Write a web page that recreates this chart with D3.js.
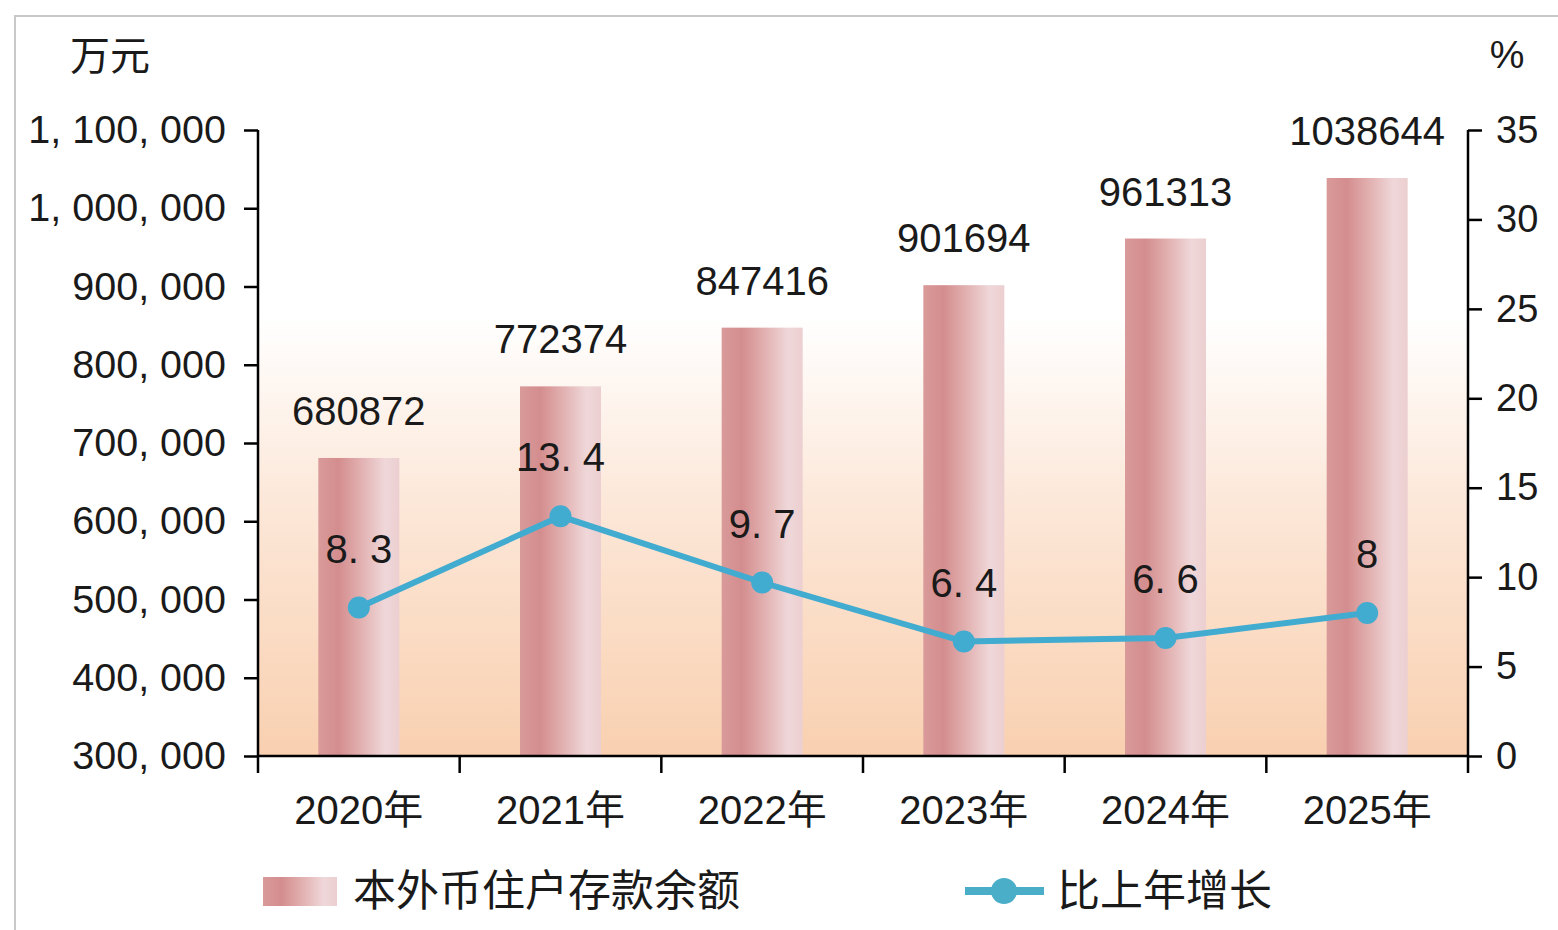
<!DOCTYPE html>
<html>
<head>
<meta charset="utf-8">
<script src="https://cdn.jsdelivr.net/npm/d3@7"></script>
<style>
html,body{margin:0;padding:0;background:#fff;}
svg{display:block;}
text{font-family:"Liberation Sans","Noto Sans CJK SC",Arial,sans-serif;fill:#1a1a1a;}
.cjk{font-family:"Noto Sans CJK SC","Liberation Sans",sans-serif;}
</style>
</head>
<body>
<script>
const years = ["2020年","2021年","2022年","2023年","2024年","2025年"];
const deposits = [680872, 772374, 847416, 901694, 961313, 1038644];
const growth = [8.3, 13.4, 9.7, 6.4, 6.6, 8];
const growthLabels = ["8. 3","13. 4","9. 7","6. 4","6. 6","8"];
const leftTicks = [300000,400000,500000,600000,700000,800000,900000,1000000,1100000];
const rightTicks = [0,5,10,15,20,25,30,35];
const legendNames = ["本外币住户存款余额","比上年增长"];
const units = ["万元","%"];

const W = 1558, H = 930;
const svg = d3.select("body").append("svg").attr("width", W).attr("height", H);
const defs = svg.append("defs");

const bg = defs.append("linearGradient").attr("id","bgGrad").attr("x1",0).attr("y1",0).attr("x2",0).attr("y2",1);
bg.append("stop").attr("offset","0%").attr("stop-color","#ffffff");
bg.append("stop").attr("offset","30%").attr("stop-color","#ffffff");
bg.append("stop").attr("offset","60%").attr("stop-color","#fce7d8");
bg.append("stop").attr("offset","100%").attr("stop-color","#f9d0b0");

const barG = defs.append("linearGradient").attr("id","barGrad").attr("x1",0).attr("y1",0).attr("x2",1).attr("y2",0);
barG.append("stop").attr("offset","0%").attr("stop-color","#d99a9a");
barG.append("stop").attr("offset","25%").attr("stop-color","#d48d8e");
barG.append("stop").attr("offset","55%").attr("stop-color","#e3b3b3");
barG.append("stop").attr("offset","82%").attr("stop-color","#efd7d9");
barG.append("stop").attr("offset","100%").attr("stop-color","#eccfd0");

// outer frame
svg.append("rect").attr("x",15).attr("y",16).attr("width",W).attr("height",H)
  .attr("fill","none").attr("stroke","#c8c8c8").attr("stroke-width",2);

const m = {left:258, right:1468, top:130, bottom:756};
const xb = d3.scaleBand().domain(years).range([m.left, m.right]);
const yL = d3.scaleLinear().domain([300000,1100000]).range([m.bottom, m.top]);
const yR = d3.scaleLinear().domain([0,35]).range([m.bottom, m.top]);

svg.append("rect").attr("x",m.left).attr("y",m.top).attr("width",m.right-m.left).attr("height",m.bottom-m.top)
  .attr("fill","url(#bgGrad)");

// bars
const bw = 81;
svg.selectAll(".bar").data(deposits).enter().append("rect")
  .attr("x",(d,i)=>xb(years[i])+xb.bandwidth()/2-bw/2)
  .attr("width",bw)
  .attr("y",d=>yL(d))
  .attr("height",d=>m.bottom-yL(d))
  .attr("fill","url(#barGrad)");

svg.selectAll(".blab").data(deposits).enter().append("text")
  .attr("x",(d,i)=>xb(years[i])+xb.bandwidth()/2)
  .attr("y",d=>yL(d)-33)
  .attr("text-anchor","middle").attr("font-size",40)
  .text(d=>d);

// axes
const fmtL = d => d3.format(",")(d).replace(/,/g, ", ");
const axL = svg.append("g").attr("transform",`translate(${m.left},0)`)
  .call(d3.axisLeft(yL).tickValues(leftTicks).tickFormat(fmtL).tickSize(14).tickPadding(18));
const axR = svg.append("g").attr("transform",`translate(${m.right},0)`)
  .call(d3.axisRight(yR).tickValues(rightTicks).tickSize(14).tickPadding(14));
const axB = svg.append("g").attr("transform",`translate(0,${m.bottom})`)
  .call(d3.axisBottom(xb).tickSize(0).tickPadding(40));
svg.selectAll(".sep").data(d3.range(years.length+1)).enter().append("line")
  .attr("x1",i=>m.left+i*xb.step()).attr("x2",i=>m.left+i*xb.step())
  .attr("y1",m.bottom).attr("y2",m.bottom+17)
  .attr("stroke","#000").attr("stroke-width",2.5);

[axL,axR,axB].forEach(a=>{
  a.select(".domain").attr("stroke","#000").attr("stroke-width",2.5);
  a.selectAll(".tick line").attr("stroke","#000").attr("stroke-width",2.5);
  a.selectAll(".tick text").attr("fill","#1a1a1a").attr("font-family",null);
});
axL.selectAll(".tick text").attr("font-size",39.5);
axR.selectAll(".tick text").attr("font-size",38);
axB.selectAll(".tick text").attr("font-size",40);
axL.select(".domain").attr("d",`M0,${m.top}V${m.bottom}`);
axR.select(".domain").attr("d",`M0,${m.top}V${m.bottom}`);
axB.select(".domain").attr("d",`M${m.left},0H${m.right}`);

// units
svg.append("text").attr("class","cjk").attr("x",70).attr("y",70).attr("font-size",40).text(units[0]);
svg.append("text").attr("x",1507).attr("y",68).attr("text-anchor","middle").attr("font-size",39).text(units[1]);

// line
const lineColor = "#42abd0";
const cx = i => xb(years[i]) + xb.bandwidth()/2;
svg.append("path").datum(growth)
  .attr("d", d3.line().x((d,i)=>cx(i)).y(d=>yR(d)))
  .attr("fill","none").attr("stroke",lineColor).attr("stroke-width",6);
svg.selectAll(".dot").data(growth).enter().append("circle")
  .attr("cx",(d,i)=>cx(i)).attr("cy",d=>yR(d)).attr("r",11).attr("fill",lineColor);
svg.selectAll(".glab").data(growth).enter().append("text")
  .attr("x",(d,i)=>cx(i)).attr("y",d=>yR(d)-45)
  .attr("text-anchor","middle").attr("font-size",40)
  .text((d,i)=>growthLabels[i]);

// legend
svg.append("rect").attr("x",263).attr("y",877).attr("width",74).attr("height",29).attr("fill","url(#barGrad)");
svg.append("text").attr("class","cjk").attr("x",353).attr("y",906).attr("font-size",43).text(legendNames[0]);
svg.append("line").attr("x1",965).attr("x2",1044).attr("y1",891).attr("y2",891)
  .attr("stroke","#4aaec9").attr("stroke-width",8);
svg.append("circle").attr("cx",1004).attr("cy",891).attr("r",13).attr("fill","#4aaec9");
svg.append("text").attr("class","cjk").attr("x",1057).attr("y",906).attr("font-size",43).text(legendNames[1]);
</script>
</body>
</html>
